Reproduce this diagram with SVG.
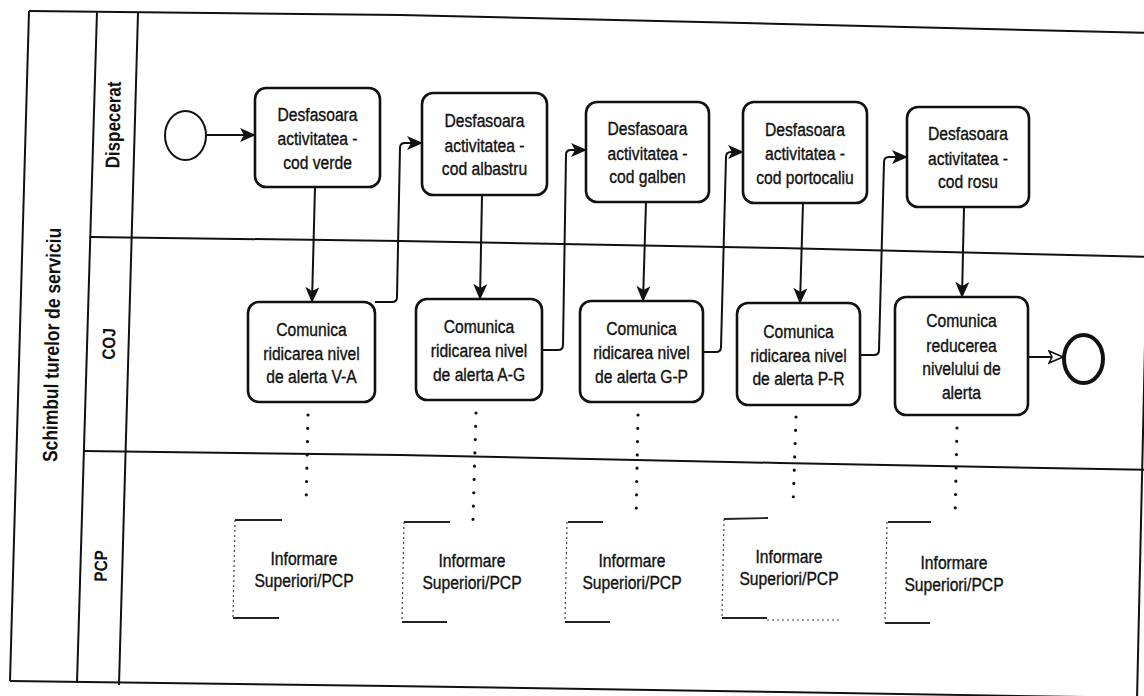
<svg xmlns="http://www.w3.org/2000/svg" width="1144" height="696" viewBox="0 0 1144 696">
<defs>
<style>
.task{fill:#fff;stroke:#111;stroke-width:2.6}
.txt{font-family:"Liberation Sans",Arial,sans-serif;font-size:18px;fill:#111;stroke:#111;stroke-width:0.35;text-anchor:middle}
.lbl{font-family:"Liberation Sans",Arial,sans-serif;font-weight:bold;fill:#111;text-anchor:middle}
.flow{fill:none;stroke:#111;stroke-width:2}
.assoc{fill:none;stroke:#111;stroke-width:3.2;stroke-linecap:round;stroke-dasharray:0 13.3}
.line{fill:none;stroke:#111;stroke-width:2}
.ann{fill:none;stroke:#222;stroke-width:1.8}
.annd{fill:none;stroke:#444;stroke-width:1.2;stroke-dasharray:2 3}
</style>
<marker id="arr" viewBox="0 0 16 14" refX="15" refY="7" markerWidth="16" markerHeight="14" markerUnits="userSpaceOnUse" orient="auto"><path d="M0,0 L16,7 L0,14 L4,7 z" fill="#111"/></marker>
<marker id="arrOpen" viewBox="0 0 16 14" refX="15" refY="7" markerWidth="16" markerHeight="14" markerUnits="userSpaceOnUse" orient="auto"><path d="M1,1 L15,7 L1,13 L4,7 z" fill="#fff" stroke="#111" stroke-width="1.6"/></marker>
</defs>
<rect x="0" y="0" width="1144" height="696" fill="#fff"/>

<g id="pool">
<path class="line" d="M29,11 L400,15 L744,23 L1152,33"/>
<path class="line" d="M29,11 L10,681"/>
<path class="line" d="M10,681 L390,686 L780,692 L1145,698"/>
<path class="line" d="M1152,33 L1137,700"/>
<path class="line" d="M97,11 L77,683"/>
<text class="lbl" font-size="20.5" transform="translate(59,345) rotate(-89) scale(0.85,1)">Schimbul turelor de serviciu</text>
</g>

<g id="lanes">
<path class="line" d="M138,13 L119,685"/>
<path class="line" d="M90,237 L400,241 L780,248 L1152,257"/>
<path class="line" d="M84,451 L400,455 L780,463 L1152,470"/>
<text class="lbl" font-size="20" transform="translate(120,125) rotate(-89) scale(0.85,1)">Dispecerat</text>
<text class="lbl" font-size="18" transform="translate(115,344) rotate(-89) scale(0.85,1)">COJ</text>
<text class="lbl" font-size="18" transform="translate(107,566) rotate(-89) scale(0.85,1)">PCP</text>
</g>

<g id="connectors">
<path class="flow" d="M207,135 L255,135" marker-end="url(#arr)"/>
<path class="flow" d="M315,187 L312,302" marker-end="url(#arr)"/>
<path class="flow" d="M375,302 L392,302 Q397,302 397,297 L400,148 Q400,143 405,143 L422,143" marker-end="url(#arr)"/>
<path class="flow" d="M482,195 L480,299" marker-end="url(#arr)"/>
<path class="flow" d="M542,350 L558,350 Q563,350 563,345 L566,155 Q566,150 571,150 L586,150" marker-end="url(#arr)"/>
<path class="flow" d="M646,202 L643,301" marker-end="url(#arr)"/>
<path class="flow" d="M703,352 L716,352 Q721,352 721,347 L726,157 Q726,152 731,152 L743,152" marker-end="url(#arr)"/>
<path class="flow" d="M803,203 L800,303" marker-end="url(#arr)"/>
<path class="flow" d="M860,355 L874,355 Q879,355 879,350 L884,162 Q884,157 889,157 L907,157" marker-end="url(#arr)"/>
<path class="flow" d="M964,207 L962,297" marker-end="url(#arr)"/>
<path class="flow" d="M1028,357 L1063,357" marker-end="url(#arrOpen)"/>
<path class="assoc" d="M308,415 L306,508"/>
<path class="assoc" d="M476,413 L473,520"/>
<path class="assoc" d="M638,415 L636,521"/>
<path class="assoc" d="M796,417 L793,508"/>
<path class="assoc" d="M957,428 L955,520"/>
</g>

<g id="start"><ellipse cx="185.5" cy="135.5" rx="20.5" ry="24.5" fill="#fff" stroke="#111" stroke-width="2"/></g>
<g id="end"><ellipse cx="1083.5" cy="359" rx="19.5" ry="24" fill="#fff" stroke="#111" stroke-width="4"/></g>

<g id="d1"><rect class="task" x="255" y="88" width="125" height="99" rx="11"/>
<text class="txt" transform="translate(317.5,137.5) scale(0.87,1)"><tspan x="0" y="-17">Desfasoara</tspan><tspan x="0" y="7.5">activitatea -</tspan><tspan x="0" y="31.5">cod verde</tspan></text></g>
<g id="d2"><rect class="task" x="422" y="93" width="125" height="102" rx="11"/>
<text class="txt" transform="translate(484.5,144) scale(0.87,1)"><tspan x="0" y="-17">Desfasoara</tspan><tspan x="0" y="7.5">activitatea -</tspan><tspan x="0" y="31.5">cod albastru</tspan></text></g>
<g id="d3"><rect class="task" x="586" y="102" width="123" height="100" rx="11"/>
<text class="txt" transform="translate(647.5,152) scale(0.87,1)"><tspan x="0" y="-17">Desfasoara</tspan><tspan x="0" y="7.5">activitatea -</tspan><tspan x="0" y="31.5">cod galben</tspan></text></g>
<g id="d4"><rect class="task" x="743" y="102" width="124" height="101" rx="11"/>
<text class="txt" transform="translate(805,152.5) scale(0.87,1)"><tspan x="0" y="-17">Desfasoara</tspan><tspan x="0" y="7.5">activitatea -</tspan><tspan x="0" y="31.5">cod portocaliu</tspan></text></g>
<g id="d5"><rect class="task" x="907" y="107" width="122" height="100" rx="11"/>
<text class="txt" transform="translate(968,157) scale(0.87,1)"><tspan x="0" y="-17">Desfasoara</tspan><tspan x="0" y="7.5">activitatea -</tspan><tspan x="0" y="31.5">cod rosu</tspan></text></g>

<g id="c1"><rect class="task" x="248" y="302" width="127" height="100" rx="11"/>
<text class="txt" transform="translate(311.5,352) scale(0.87,1)"><tspan x="0" y="-16.5">Comunica</tspan><tspan x="0" y="7.5">ridicarea nivel</tspan><tspan x="0" y="31.5">de alerta V-A</tspan></text></g>
<g id="c2"><rect class="task" x="416" y="299" width="126" height="101" rx="11"/>
<text class="txt" transform="translate(479,349.5) scale(0.87,1)"><tspan x="0" y="-16.5">Comunica</tspan><tspan x="0" y="7.5">ridicarea nivel</tspan><tspan x="0" y="31.5">de alerta A-G</tspan></text></g>
<g id="c3"><rect class="task" x="580" y="301" width="123" height="101" rx="11"/>
<text class="txt" transform="translate(641.5,351.5) scale(0.87,1)"><tspan x="0" y="-16.5">Comunica</tspan><tspan x="0" y="7.5">ridicarea nivel</tspan><tspan x="0" y="31.5">de alerta G-P</tspan></text></g>
<g id="c4"><rect class="task" x="737" y="303" width="123" height="102" rx="11"/>
<text class="txt" transform="translate(798.5,354) scale(0.87,1)"><tspan x="0" y="-16.5">Comunica</tspan><tspan x="0" y="7.5">ridicarea nivel</tspan><tspan x="0" y="31.5">de alerta P-R</tspan></text></g>
<g id="c5"><rect class="task" x="895" y="297" width="133" height="118" rx="11"/>
<text class="txt" transform="translate(961.5,356) scale(0.87,1)"><tspan x="0" y="-29">Comunica</tspan><tspan x="0" y="-4.5">reducerea</tspan><tspan x="0" y="19.5">nivelului de</tspan><tspan x="0" y="43.5">alerta</tspan></text></g>

<g id="p1"><path class="ann" d="M235,520 L282,520 M233,618 L279,618"/><path class="annd" d="M235,520 L233,618"/>
<text class="txt" transform="translate(304,0) scale(0.87,1)"><tspan x="0" y="565">Informare</tspan><tspan x="0" y="587">Superiori/PCP</tspan></text></g>
<g id="p2"><path class="ann" d="M404,522 L450,522 M402,622 L447,622"/><path class="annd" d="M404,522 L402,622"/>
<text class="txt" transform="translate(472,0) scale(0.87,1)"><tspan x="0" y="567">Informare</tspan><tspan x="0" y="589">Superiori/PCP</tspan></text></g>
<g id="p3"><path class="ann" d="M568,522 L603,522 M565,622 L610,622"/><path class="annd" d="M567,522 L565,622"/>
<text class="txt" transform="translate(632,0) scale(0.87,1)"><tspan x="0" y="567">Informare</tspan><tspan x="0" y="589">Superiori/PCP</tspan></text></g>
<g id="p4"><path class="ann" d="M724,519 L768,518 M722,618 L767,618"/><path class="annd" d="M724,519 L722,618 M767,620 L840,620"/>
<text class="txt" transform="translate(789,0) scale(0.87,1)"><tspan x="0" y="563">Informare</tspan><tspan x="0" y="585">Superiori/PCP</tspan></text></g>
<g id="p5"><path class="ann" d="M888,522 L931,522 M885,623 L930,623"/><path class="annd" d="M887,522 L885,623"/>
<text class="txt" transform="translate(954,0) scale(0.87,1)"><tspan x="0" y="569">Informare</tspan><tspan x="0" y="591">Superiori/PCP</tspan></text></g>
</svg>
